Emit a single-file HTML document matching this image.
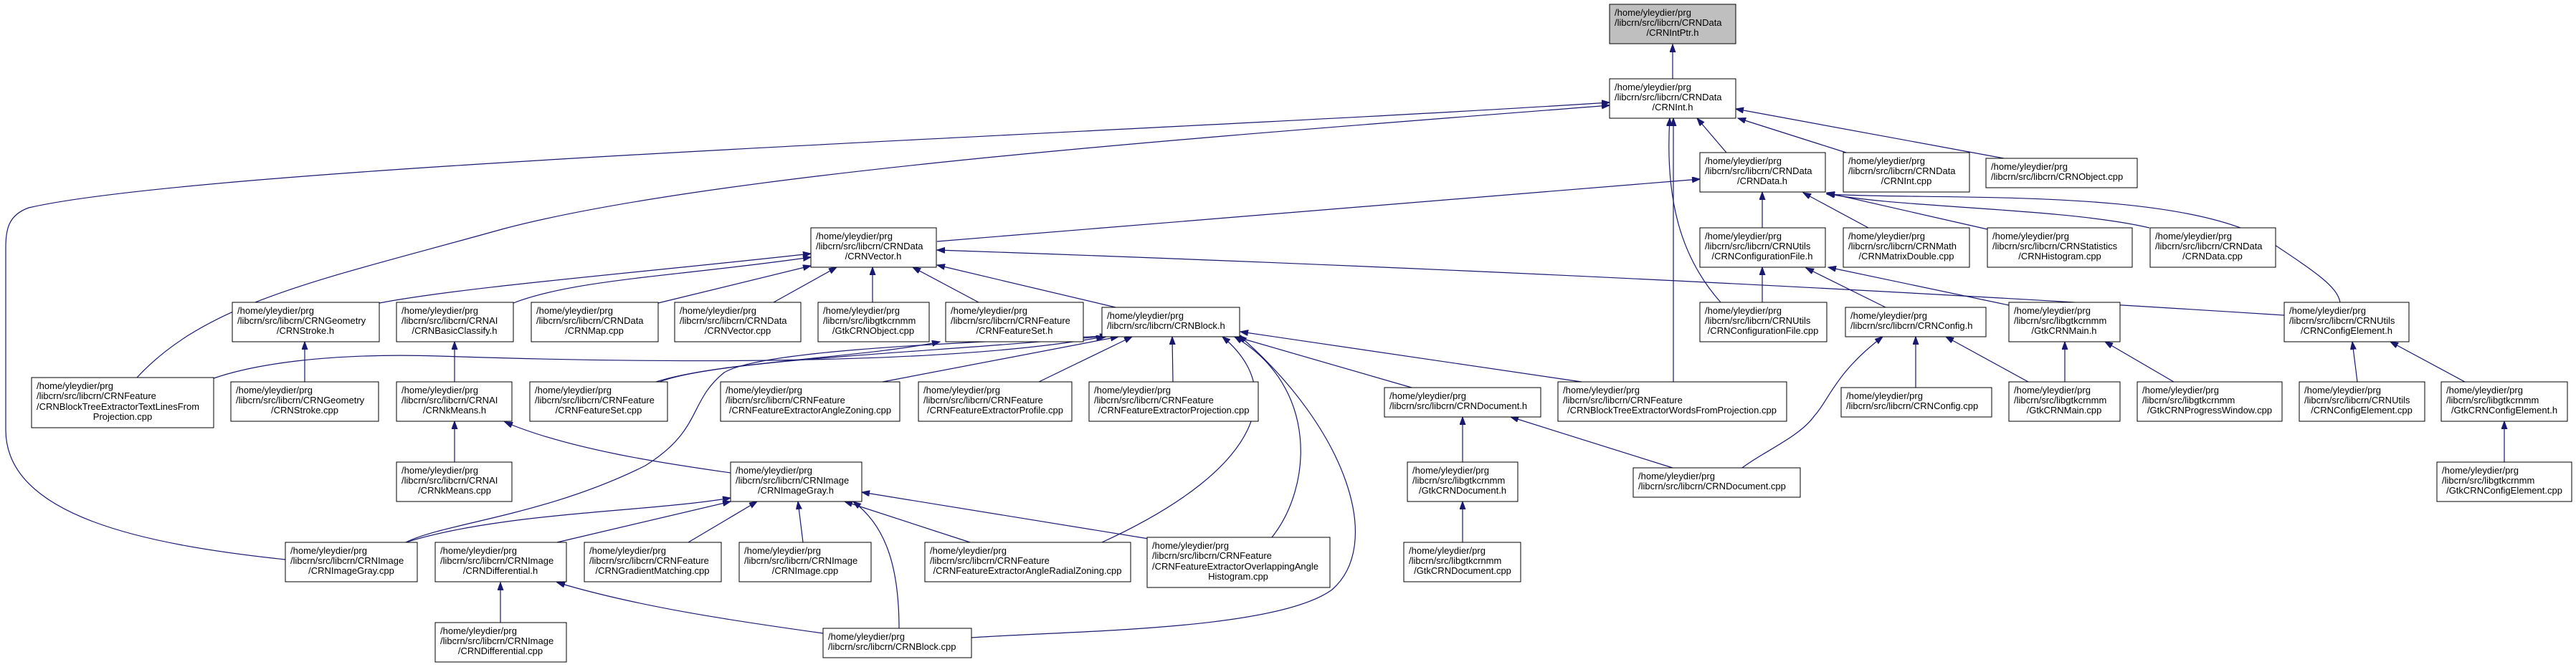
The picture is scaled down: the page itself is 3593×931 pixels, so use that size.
<!DOCTYPE html>
<html><head><meta charset="utf-8"><style>
html,body{margin:0;padding:0;background:#fff;}
svg{display:block;}
text{font-family:"Liberation Sans",sans-serif;font-size:13px;fill:#000;}
.e{fill:none;stroke:#191970;stroke-width:1.2;marker-start:url(#a);}
.b{fill:#fff;stroke:#000;stroke-width:1;}
.m{text-anchor:middle;}
</style></head><body>
<svg width="3593" height="931" viewBox="0 0 3593 931" xmlns="http://www.w3.org/2000/svg">
<defs><marker id="a" markerUnits="userSpaceOnUse" markerWidth="12" markerHeight="9" refX="11" refY="4" orient="auto-start-reverse"><path d="M0,0 L11,4 L0,8 z" fill="#191970" stroke="#191970"/></marker></defs>

<!-- edges -->
<path class="e" d="M2333,62 L2333,110"/>
<path class="e" d="M2367,165 L2408,213"/>
<path class="e" d="M2424,165 L2575,213"/>
<path class="e" d="M2421,152 L2795,221"/>
<path class="e" d="M2245,143 C1600,185 300,230 40,290 C12,300 8,320 8,345 L8,600 C8,720 200,760 398,781"/>
<path class="e" d="M2245,147 C1700,190 1000,240 700,320 C450,390 290,420 191,527"/>
<path class="e" d="M2329,165 C2322,280 2345,360 2400,422"/>
<path class="e" d="M2334,165 L2334,533"/>
<path class="e" d="M2371,250 L1307,337"/>
<path class="e" d="M2458,268 L2458,318"/>
<path class="e" d="M2515,269 L2606,318"/>
<path class="e" d="M2548,269 L2772,320"/>
<path class="e" d="M2548,270 C2640,290 2880,290 2998,318"/>
<path class="e" d="M2548,271 C2700,280 3050,260 3170,340 C3230,380 3260,400 3264,422"/>

<path class="e" d="M1131,354 C900,380 650,400 529,423"/>
<path class="e" d="M1131,359 C950,385 800,390 716,423"/>
<path class="e" d="M1131,371 L918,423"/>
<path class="e" d="M1167,373 L1079,422"/>
<path class="e" d="M1217,373 L1217,422"/>
<path class="e" d="M1273,373 L1365,422"/>
<path class="e" d="M1307,370 L1556,429"/>
<path class="e" d="M1307,349 Q2300,383 3186,440"/>
<path class="e" d="M2458,373 L2458,422"/>
<path class="e" d="M2519,374 L2630,429"/>
<path class="e" d="M2550,373 L2802,426"/>

<path class="e" d="M425,477 L425,533"/>
<path class="e" d="M634,477 L634,533"/>
<path class="e" d="M634,588 L634,645"/>
<path class="e" d="M704,589 C800,630 950,650 1019,660"/>
<path class="e" d="M1311,477 C1200,500 1000,505 915,533"/>
<path class="e" d="M1545,469 C1300,492 1000,502 920,533"/>
<path class="e" d="M1540,470 C1350,505 1000,510 612,497 C450,492 350,510 298,528"/>
<path class="e" d="M1545,469 C1300,480 1060,490 1010,520 C960,560 980,600 900,650 C760,720 620,730 566,757"/>
<path class="e" d="M1560,470 L1231,533"/>
<path class="e" d="M1579,470 L1449,533"/>
<path class="e" d="M1635,470 L1636,533"/>
<path class="e" d="M1720,469 L1969,541"/>
<path class="e" d="M1730,463 L2206,533"/>
<path class="e" d="M1705,470 C1790,540 1770,650 1537,757"/>
<path class="e" d="M1722,470 C1840,540 1830,680 1774,750"/>
<path class="e" d="M1728,468 C1880,600 1930,760 1858,823 C1780,880 1500,880 1355,890"/>
<path class="e" d="M2672,470 L2672,541"/>
<path class="e" d="M2714,470 L2829,533"/>
<path class="e" d="M2626,470 C2560,520 2550,560 2531,580 C2510,610 2460,630 2430,653"/>
<path class="e" d="M2880,477 L2880,533"/>
<path class="e" d="M2936,477 L3032,533"/>
<path class="e" d="M3281,477 L3288,533"/>
<path class="e" d="M3334,477 L3438,533"/>
<path class="e" d="M3493,588 L3493,645"/>
<path class="e" d="M2040,582 L2040,645"/>
<path class="e" d="M2107,582 L2333,653"/>
<path class="e" d="M2040,700 L2040,757"/>
<path class="e" d="M1019,695 C900,715 700,715 566,757"/>
<path class="e" d="M1019,700 L777,757"/>
<path class="e" d="M1056,700 L960,757"/>
<path class="e" d="M1113,700 L1120,757"/>
<path class="e" d="M1178,700 L1353,757"/>
<path class="e" d="M1202,687 L1602,752"/>
<path class="e" d="M1190,700 C1230,730 1254,780 1254,877"/>
<path class="e" d="M698,813 L698,869"/>
<path class="e" d="M777,813 C900,850 1050,870 1148,884"/>

<!-- nodes -->
<g><rect x="2245" y="6" width="176" height="55" fill="#bfbfbf" stroke="#000"/><text x="2252" y="22">/home/yleydier/prg</text><text x="2252" y="36">/libcrn/src/libcrn/CRNData</text><text class="m" x="2333" y="50">/CRNIntPtr.h</text></g>
<g><rect class="b" x="2245" y="110" width="176" height="55"/><text x="2252" y="126">/home/yleydier/prg</text><text x="2252" y="140">/libcrn/src/libcrn/CRNData</text><text class="m" x="2333" y="154">/CRNInt.h</text></g>

<g><rect class="b" x="2371" y="213" width="175" height="55"/><text x="2378" y="229">/home/yleydier/prg</text><text x="2378" y="243">/libcrn/src/libcrn/CRNData</text><text class="m" x="2458" y="257">/CRNData.h</text></g>
<g><rect class="b" x="2571" y="213" width="176" height="55"/><text x="2578" y="229">/home/yleydier/prg</text><text x="2578" y="243">/libcrn/src/libcrn/CRNData</text><text class="m" x="2659" y="257">/CRNInt.cpp</text></g>
<g><rect class="b" x="2770" y="221" width="211" height="41"/><text x="2777" y="237">/home/yleydier/prg</text><text x="2777" y="251">/libcrn/src/libcrn/CRNObject.cpp</text></g>

<g><rect class="b" x="1131" y="318" width="175" height="55"/><text x="1138" y="334">/home/yleydier/prg</text><text x="1138" y="348">/libcrn/src/libcrn/CRNData</text><text class="m" x="1218" y="362">/CRNVector.h</text></g>
<g><rect class="b" x="2371" y="318" width="175" height="55"/><text x="2378" y="334">/home/yleydier/prg</text><text x="2378" y="348">/libcrn/src/libcrn/CRNUtils</text><text class="m" x="2458" y="362">/CRNConfigurationFile.h</text></g>
<g><rect class="b" x="2571" y="318" width="176" height="55"/><text x="2578" y="334">/home/yleydier/prg</text><text x="2578" y="348">/libcrn/src/libcrn/CRNMath</text><text class="m" x="2659" y="362">/CRNMatrixDouble.cpp</text></g>
<g><rect class="b" x="2772" y="318" width="202" height="55"/><text x="2779" y="334">/home/yleydier/prg</text><text x="2779" y="348">/libcrn/src/libcrn/CRNStatistics</text><text class="m" x="2873" y="362">/CRNHistogram.cpp</text></g>
<g><rect class="b" x="2999" y="318" width="175" height="55"/><text x="3006" y="334">/home/yleydier/prg</text><text x="3006" y="348">/libcrn/src/libcrn/CRNData</text><text class="m" x="3086" y="362">/CRNData.cpp</text></g>

<g><rect class="b" x="324" y="422" width="205" height="55"/><text x="331" y="438">/home/yleydier/prg</text><text x="331" y="452">/libcrn/src/libcrn/CRNGeometry</text><text class="m" x="426" y="466">/CRNStroke.h</text></g>
<g><rect class="b" x="553" y="422" width="163" height="55"/><text x="560" y="438">/home/yleydier/prg</text><text x="560" y="452">/libcrn/src/libcrn/CRNAI</text><text class="m" x="634" y="466">/CRNBasicClassify.h</text></g>
<g><rect class="b" x="741" y="422" width="177" height="55"/><text x="748" y="438">/home/yleydier/prg</text><text x="748" y="452">/libcrn/src/libcrn/CRNData</text><text class="m" x="829" y="466">/CRNMap.cpp</text></g>
<g><rect class="b" x="941" y="422" width="176" height="55"/><text x="948" y="438">/home/yleydier/prg</text><text x="948" y="452">/libcrn/src/libcrn/CRNData</text><text class="m" x="1029" y="466">/CRNVector.cpp</text></g>
<g><rect class="b" x="1141" y="422" width="155" height="55"/><text x="1148" y="438">/home/yleydier/prg</text><text x="1148" y="452">/libcrn/src/libgtkcrnmm</text><text class="m" x="1218" y="466">/GtkCRNObject.cpp</text></g>
<g><rect class="b" x="1319" y="422" width="192" height="55"/><text x="1326" y="438">/home/yleydier/prg</text><text x="1326" y="452">/libcrn/src/libcrn/CRNFeature</text><text class="m" x="1415" y="466">/CRNFeatureSet.h</text></g>
<g><rect class="b" x="1537" y="429" width="192" height="41"/><text x="1544" y="445">/home/yleydier/prg</text><text x="1544" y="459">/libcrn/src/libcrn/CRNBlock.h</text></g>
<g><rect class="b" x="2371" y="422" width="177" height="55"/><text x="2378" y="438">/home/yleydier/prg</text><text x="2378" y="452">/libcrn/src/libcrn/CRNUtils</text><text class="m" x="2459" y="466">/CRNConfigurationFile.cpp</text></g>
<g><rect class="b" x="2574" y="429" width="196" height="41"/><text x="2581" y="445">/home/yleydier/prg</text><text x="2581" y="459">/libcrn/src/libcrn/CRNConfig.h</text></g>
<g><rect class="b" x="2802" y="422" width="155" height="55"/><text x="2809" y="438">/home/yleydier/prg</text><text x="2809" y="452">/libcrn/src/libgtkcrnmm</text><text class="m" x="2879" y="466">/GtkCRNMain.h</text></g>
<g><rect class="b" x="3186" y="422" width="174" height="55"/><text x="3193" y="438">/home/yleydier/prg</text><text x="3193" y="452">/libcrn/src/libcrn/CRNUtils</text><text class="m" x="3273" y="466">/CRNConfigElement.h</text></g>

<g><rect class="b" x="44" y="527" width="254" height="70"/><text x="51" y="543">/home/yleydier/prg</text><text x="51" y="557">/libcrn/src/libcrn/CRNFeature</text><text x="51" y="572">/CRNBlockTreeExtractorTextLinesFrom</text><text class="m" x="171" y="586">Projection.cpp</text></g>
<g><rect class="b" x="322" y="533" width="206" height="55"/><text x="329" y="549">/home/yleydier/prg</text><text x="329" y="563">/libcrn/src/libcrn/CRNGeometry</text><text class="m" x="425" y="577">/CRNStroke.cpp</text></g>
<g><rect class="b" x="553" y="533" width="161" height="55"/><text x="560" y="549">/home/yleydier/prg</text><text x="560" y="563">/libcrn/src/libcrn/CRNAI</text><text class="m" x="634" y="577">/CRNkMeans.h</text></g>
<g><rect class="b" x="739" y="533" width="192" height="55"/><text x="746" y="549">/home/yleydier/prg</text><text x="746" y="563">/libcrn/src/libcrn/CRNFeature</text><text class="m" x="835" y="577">/CRNFeatureSet.cpp</text></g>
<g><rect class="b" x="1005" y="533" width="250" height="55"/><text x="1012" y="549">/home/yleydier/prg</text><text x="1012" y="563">/libcrn/src/libcrn/CRNFeature</text><text class="m" x="1130" y="577">/CRNFeatureExtractorAngleZoning.cpp</text></g>
<g><rect class="b" x="1281" y="533" width="214" height="55"/><text x="1288" y="549">/home/yleydier/prg</text><text x="1288" y="563">/libcrn/src/libcrn/CRNFeature</text><text class="m" x="1388" y="577">/CRNFeatureExtractorProfile.cpp</text></g>
<g><rect class="b" x="1519" y="533" width="236" height="55"/><text x="1526" y="549">/home/yleydier/prg</text><text x="1526" y="563">/libcrn/src/libcrn/CRNFeature</text><text class="m" x="1637" y="577">/CRNFeatureExtractorProjection.cpp</text></g>
<g><rect class="b" x="1931" y="541" width="218" height="41"/><text x="1938" y="557">/home/yleydier/prg</text><text x="1938" y="571">/libcrn/src/libcrn/CRNDocument.h</text></g>
<g><rect class="b" x="2173" y="533" width="319" height="55"/><text x="2180" y="549">/home/yleydier/prg</text><text x="2180" y="563">/libcrn/src/libcrn/CRNFeature</text><text class="m" x="2332" y="577">/CRNBlockTreeExtractorWordsFromProjection.cpp</text></g>
<g><rect class="b" x="2568" y="541" width="210" height="41"/><text x="2575" y="557">/home/yleydier/prg</text><text x="2575" y="571">/libcrn/src/libcrn/CRNConfig.cpp</text></g>
<g><rect class="b" x="2802" y="533" width="155" height="55"/><text x="2809" y="549">/home/yleydier/prg</text><text x="2809" y="563">/libcrn/src/libgtkcrnmm</text><text class="m" x="2879" y="577">/GtkCRNMain.cpp</text></g>
<g><rect class="b" x="2981" y="533" width="202" height="55"/><text x="2988" y="549">/home/yleydier/prg</text><text x="2988" y="563">/libcrn/src/libgtkcrnmm</text><text class="m" x="3082" y="577">/GtkCRNProgressWindow.cpp</text></g>
<g><rect class="b" x="3207" y="533" width="175" height="55"/><text x="3214" y="549">/home/yleydier/prg</text><text x="3214" y="563">/libcrn/src/libcrn/CRNUtils</text><text class="m" x="3294" y="577">/CRNConfigElement.cpp</text></g>
<g><rect class="b" x="3405" y="533" width="176" height="55"/><text x="3412" y="549">/home/yleydier/prg</text><text x="3412" y="563">/libcrn/src/libgtkcrnmm</text><text class="m" x="3493" y="577">/GtkCRNConfigElement.h</text></g>

<g><rect class="b" x="553" y="645" width="161" height="55"/><text x="560" y="661">/home/yleydier/prg</text><text x="560" y="675">/libcrn/src/libcrn/CRNAI</text><text class="m" x="634" y="689">/CRNkMeans.cpp</text></g>
<g><rect class="b" x="1019" y="645" width="183" height="55"/><text x="1026" y="661">/home/yleydier/prg</text><text x="1026" y="675">/libcrn/src/libcrn/CRNImage</text><text class="m" x="1110" y="689">/CRNImageGray.h</text></g>
<g><rect class="b" x="1963" y="645" width="154" height="55"/><text x="1970" y="661">/home/yleydier/prg</text><text x="1970" y="675">/libcrn/src/libgtkcrnmm</text><text class="m" x="2040" y="689">/GtkCRNDocument.h</text></g>
<g><rect class="b" x="2278" y="653" width="233" height="41"/><text x="2285" y="669">/home/yleydier/prg</text><text x="2285" y="683">/libcrn/src/libcrn/CRNDocument.cpp</text></g>
<g><rect class="b" x="3399" y="645" width="188" height="55"/><text x="3406" y="661">/home/yleydier/prg</text><text x="3406" y="675">/libcrn/src/libgtkcrnmm</text><text class="m" x="3493" y="689">/GtkCRNConfigElement.cpp</text></g>

<g><rect class="b" x="398" y="757" width="184" height="55"/><text x="405" y="773">/home/yleydier/prg</text><text x="405" y="787">/libcrn/src/libcrn/CRNImage</text><text class="m" x="490" y="801">/CRNImageGray.cpp</text></g>
<g><rect class="b" x="607" y="757" width="183" height="55"/><text x="614" y="773">/home/yleydier/prg</text><text x="614" y="787">/libcrn/src/libcrn/CRNImage</text><text class="m" x="698" y="801">/CRNDifferential.h</text></g>
<g><rect class="b" x="815" y="757" width="191" height="55"/><text x="822" y="773">/home/yleydier/prg</text><text x="822" y="787">/libcrn/src/libcrn/CRNFeature</text><text class="m" x="910" y="801">/CRNGradientMatching.cpp</text></g>
<g><rect class="b" x="1031" y="757" width="184" height="55"/><text x="1038" y="773">/home/yleydier/prg</text><text x="1038" y="787">/libcrn/src/libcrn/CRNImage</text><text class="m" x="1123" y="801">/CRNImage.cpp</text></g>
<g><rect class="b" x="1290" y="757" width="287" height="55"/><text x="1297" y="773">/home/yleydier/prg</text><text x="1297" y="787">/libcrn/src/libcrn/CRNFeature</text><text class="m" x="1433" y="801">/CRNFeatureExtractorAngleRadialZoning.cpp</text></g>
<g><rect class="b" x="1600" y="750" width="255" height="70"/><text x="1607" y="766">/home/yleydier/prg</text><text x="1607" y="780">/libcrn/src/libcrn/CRNFeature</text><text x="1607" y="795">/CRNFeatureExtractorOverlappingAngle</text><text class="m" x="1727" y="809">Histogram.cpp</text></g>
<g><rect class="b" x="1958" y="757" width="163" height="55"/><text x="1965" y="773">/home/yleydier/prg</text><text x="1965" y="787">/libcrn/src/libgtkcrnmm</text><text class="m" x="2040" y="801">/GtkCRNDocument.cpp</text></g>

<g><rect class="b" x="607" y="869" width="183" height="55"/><text x="614" y="885">/home/yleydier/prg</text><text x="614" y="899">/libcrn/src/libcrn/CRNImage</text><text class="m" x="698" y="913">/CRNDifferential.cpp</text></g>
<g><rect class="b" x="1148" y="877" width="207" height="41"/><text x="1155" y="893">/home/yleydier/prg</text><text x="1155" y="907">/libcrn/src/libcrn/CRNBlock.cpp</text></g>
</svg>
</body></html>
